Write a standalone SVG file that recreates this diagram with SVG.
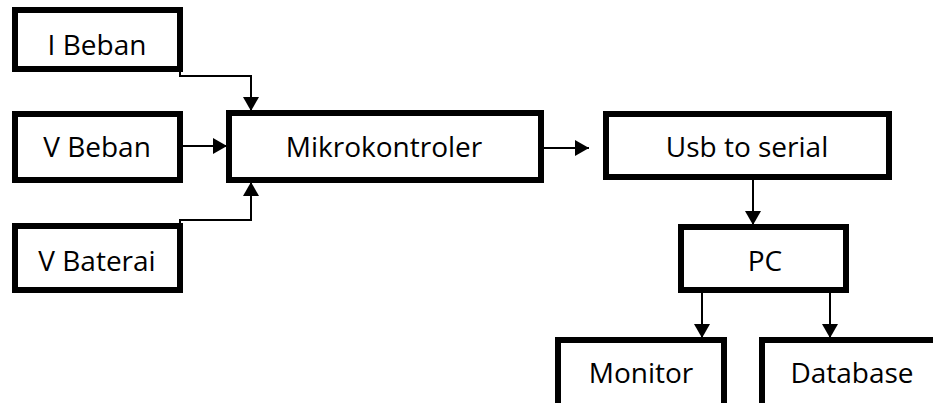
<svg xmlns="http://www.w3.org/2000/svg" width="933" height="403" viewBox="0 0 933 403">
<style>
.box{fill:#fff;stroke:#000;stroke-width:6}
.lbl{font-family:"Open Sans","Liberation Sans",sans-serif;font-size:28px;fill:#000;text-anchor:middle}
.con{fill:none;stroke:#000;stroke-width:2;marker-end:url(#ah)}
</style>
<defs>
<marker id="ah" markerUnits="userSpaceOnUse" markerWidth="16" markerHeight="16" viewBox="0 0 14 16" refX="14" refY="8" orient="auto">
<path d="M0,0 L14,8 L0,16 Z" fill="#000"/>
</marker>
</defs>
<rect width="933" height="403" fill="#fff"/>
<g id="connectors">
<path class="con" d="M180,72 V76 H251 V111"/>
<path class="con" d="M183,146 H227"/>
<path class="con" d="M180,223 V220 H251 V182"/>
<path class="con" d="M544,148 H589"/>
<path class="con" d="M753,180 V225"/>
<path class="con" d="M702,293 V338"/>
<path class="con" d="M830,293 V338"/>
</g>
<g id="node-ibeban"><rect class="box" x="15" y="10" width="165" height="59"/><text class="lbl" x="97" y="55">I Beban</text></g>
<g id="node-vbeban"><rect class="box" x="15" y="114" width="165" height="66"/><text class="lbl" x="97" y="157">V Beban</text></g>
<g id="node-vbaterai"><rect class="box" x="15" y="226" width="165" height="64"/><text class="lbl" x="97" y="271">V Baterai</text></g>
<g id="node-mikro"><rect class="box" x="229" y="113" width="312" height="67"/><text class="lbl" x="384" y="157">Mikrokontroler</text></g>
<g id="node-usb"><rect class="box" x="606" y="114" width="283" height="63"/><text class="lbl" x="747" y="157">Usb to serial</text></g>
<g id="node-pc"><rect class="box" x="681" y="227" width="165" height="63"/><text class="lbl" x="765" y="271">PC</text></g>
<g id="node-monitor"><rect class="box" x="558" y="340" width="166" height="80"/><text class="lbl" x="641" y="383">Monitor</text></g>
<g id="node-database"><rect class="box" x="762" y="340" width="181" height="80"/><text class="lbl" x="852" y="383">Database</text></g>
</svg>
